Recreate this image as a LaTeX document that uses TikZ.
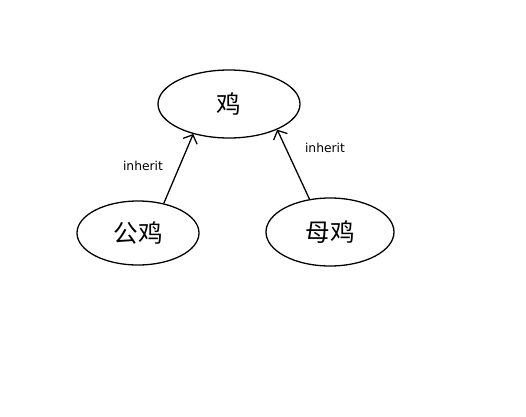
\documentclass[tikz,border=0pt]{standalone}
\usepackage{fontspec}
\setmainfont{DejaVu Sans}
\newfontfamily\cjk{Noto Sans CJK SC}
\usetikzlibrary{shapes.geometric,arrows.meta}

\tikzset{
  chick/.style={draw, ellipse, line width=1.1pt, inner sep=0pt, font=\cjk\fontsize{21}{21}\selectfont},
  inh/.style={line width=1.1pt, -{Straight Barb[length=6pt,width=13pt]}},
  lbl/.style={font=\fontsize{10.5}{10.5}\selectfont}
}

\begin{document}
\begin{tikzpicture}[x=0.03cm, y=-0.03cm]

\useasboundingbox (0,0) rectangle (526,417);

% parent class
\node[chick, minimum width=4.26cm, minimum height=2.04cm] (ji) at (229,104) {鸡};

% subclasses
\node[chick, minimum width=3.66cm, minimum height=1.92cm] (gongji) at (138,233) {公鸡};
\node[chick, minimum width=3.84cm, minimum height=2.04cm] (muji) at (330,232) {母鸡};

% inheritance
\draw[inh] (gongji.49) -- (ji.220);
\draw[inh] (muji.122) -- (ji.332);

\node[lbl] (inhl) at (143,166) {inherit};
\node[lbl] (inhr) at (325,148) {inherit};

\end{tikzpicture}
\end{document}
